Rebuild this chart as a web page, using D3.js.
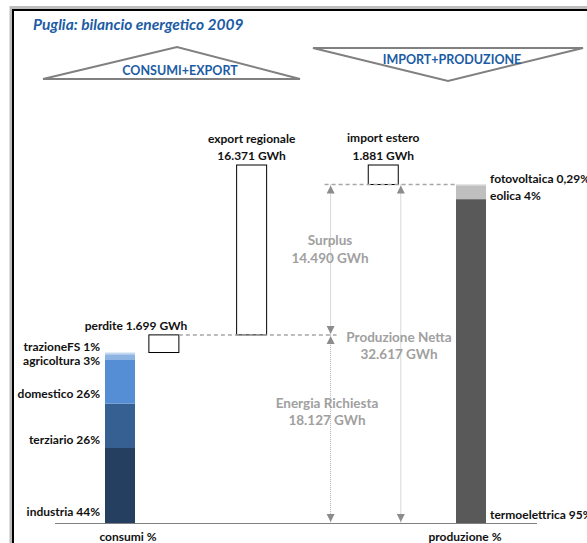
<!DOCTYPE html>
<html>
<head>
<meta charset="utf-8">
<script src="https://cdn.jsdelivr.net/npm/d3@7"></script>
<style>
  body { margin: 0; background: #fff; }
  svg text { font-family: Lato, "Open Sans", sans-serif; }
</style>
</head>
<body>
<div id="chart"></div>
<script>
// consumption breakdown (left stacked bar)
const consumiCats = ['industria', 'terziario', 'domestico', 'agricoltura', 'trazioneFS'];
const consumiPct = [44, 26, 26, 3, 1];
const consumiColors = ['#243f60', '#376092', '#558ed5', '#8eb4e3', '#c6d9f1'];

// production breakdown (right stacked bar)
const produzioneCats = ['termoelettrica', 'eolica', 'fotovoltaica'];
const produzionePct = [95, 4, 0.29];
const produzioneLabels = ['95%', '4%', '0,29%'];
const produzioneColors = ['#595959', '#bfbfbf', '#c8c8c8'];

// energy flows, GWh
const energiaRichiesta = 18127;
const perdite = 1699;
const exportReg = 16371;
const importEst = 1881;
const produzioneNetta = 32617;
const surplus = 14490;

const fmt = (v) => d3.format(',')(v).replace(/,/g, '.') + ' GWh';

function main() {
  var width = 587, height = 543;
  var svg = d3.select('#chart').append('svg')
    .attr('width', width).attr('height', height);

  var blue = '#1b5ca4';
  var grey = '#a6a6a6';
  var fs = 12;

  // frame
  svg.append('line').attr('x1', 10).attr('x2', width).attr('y1', 7.5).attr('y2', 7.5)
    .attr('stroke', '#bdbdbd').attr('stroke-width', 3);
  svg.append('line').attr('x1', 11).attr('x2', 11).attr('y1', 6).attr('y2', height)
    .attr('stroke', '#bdbdbd').attr('stroke-width', 3);
  svg.append('line').attr('x1', 13).attr('x2', width).attr('y1', 10).attr('y2', 10)
    .attr('stroke', '#000').attr('stroke-width', 2);
  svg.append('line').attr('x1', 13).attr('x2', 13).attr('y1', 9).attr('y2', height)
    .attr('stroke', '#000').attr('stroke-width', 2);

  svg.append('text').attr('x', 33).attr('y', 30)
    .attr('fill', blue).attr('font-size', 15.5).attr('font-weight', 'bold')
    .attr('font-style', 'italic').text('Puglia: bilancio energetico 2009');

  // triangles
  svg.append('path').attr('d', 'M43,79 L177,47 L300,79 Z')
    .attr('fill', 'none').attr('stroke', '#808080').attr('stroke-width', 2);
  svg.append('text').attr('x', 180).attr('y', 75).attr('text-anchor', 'middle')
    .attr('fill', blue).attr('font-size', 12.5).attr('font-weight', 'bold').text('CONSUMI+EXPORT');
  svg.append('path').attr('d', 'M313,48 L583,48 L448,81 Z')
    .attr('fill', 'none').attr('stroke', '#808080').attr('stroke-width', 2);
  svg.append('text').attr('x', 452).attr('y', 64).attr('text-anchor', 'middle')
    .attr('fill', blue).attr('font-size', 12.5).attr('font-weight', 'bold').text('IMPORT+PRODUZIONE');

  // scales
  var y = d3.scaleLinear()
    .domain([0, produzioneNetta + importEst])
    .range([523, 165]);
  var x = d3.scaleLinear().domain([0, 8]).range([120, 471]);
  var bw = 30;
  var col = { consumi: 0, perdite: 1, export: 3, surplus: 4.8, import: 6, netta: 6.4, produzione: 8 };

  // consumi stacked bar
  var consumiTot = energiaRichiesta - perdite;
  var cStack = d3.cumsum(consumiPct);
  var cData = consumiCats.map((c, i) => ({
    cat: c, pct: consumiPct[i], color: consumiColors[i],
    y0: consumiTot * (cStack[i] - consumiPct[i]) / 100,
    y1: consumiTot * cStack[i] / 100
  }));
  svg.selectAll('.cbar').data(cData).join('rect')
    .attr('class', 'cbar')
    .attr('x', x(col.consumi) - bw / 2).attr('width', bw)
    .attr('y', (d) => y(d.y1)).attr('height', (d) => y(d.y0) - y(d.y1))
    .attr('fill', (d) => d.color);

  var cLabelY = [516, 444, 398, 365, 351];
  svg.selectAll('.clab').data(cData).join('text')
    .attr('class', 'clab')
    .attr('x', 100).attr('y', (d, i) => cLabelY[i])
    .attr('text-anchor', 'end').attr('font-size', fs).attr('font-weight', 'bold')
    .attr('fill', '#111')
    .text((d) => d.cat + ' ' + d.pct + '%');

  // produzione stacked bar
  var pSum = d3.sum(produzionePct);
  var pStack = d3.cumsum(produzionePct);
  var pData = produzioneCats.map((c, i) => ({
    cat: c, label: produzioneLabels[i], color: produzioneColors[i],
    y0: produzioneNetta * (pStack[i] - produzionePct[i]) / pSum,
    y1: produzioneNetta * pStack[i] / pSum
  }));
  svg.selectAll('.pbar').data(pData).join('rect')
    .attr('class', 'pbar')
    .attr('x', x(col.produzione) - bw / 2).attr('width', bw)
    .attr('y', (d) => y(d.y1)).attr('height', (d) => y(d.y0) - y(d.y1))
    .attr('fill', (d) => d.color);

  var pLabelY = [519, 200, 183];
  svg.selectAll('.plab').data(pData).join('text')
    .attr('class', 'plab')
    .attr('x', 490).attr('y', (d, i) => pLabelY[i])
    .attr('font-size', fs).attr('font-weight', 'bold').attr('fill', '#111')
    .text((d) => d.cat + ' ' + d.label);

  // floating boxes
  var boxes = [
    { c: col.perdite, y0: consumiTot, y1: energiaRichiesta },
    { c: col.export, y0: energiaRichiesta, y1: energiaRichiesta + exportReg },
    { c: col.import, y0: produzioneNetta, y1: produzioneNetta + importEst }
  ];
  svg.selectAll('.box').data(boxes).join('rect')
    .attr('class', 'box')
    .attr('x', (d) => x(d.c) - bw / 2).attr('width', bw)
    .attr('y', (d) => y(d.y1)).attr('height', (d) => y(d.y0) - y(d.y1))
    .attr('fill', '#fff').attr('stroke', '#000').attr('stroke-width', 1);

  // dashed level lines
  svg.append('line')
    .attr('x1', x(col.perdite) + bw / 2).attr('x2', x(col.surplus) + 6)
    .attr('y1', y(energiaRichiesta)).attr('y2', y(energiaRichiesta))
    .attr('stroke', grey).attr('stroke-width', 1.5).attr('stroke-dasharray', '4,3');
  svg.append('line')
    .attr('x1', x(col.surplus) - 6).attr('x2', x(col.produzione) - bw / 2)
    .attr('y1', y(produzioneNetta)).attr('y2', y(produzioneNetta))
    .attr('stroke', grey).attr('stroke-width', 1.5).attr('stroke-dasharray', '4,3');

  // box labels
  var boxLabels = [
    { x: x(col.export), y: 143, t: 'export regionale' },
    { x: x(col.export), y: 160, t: fmt(exportReg) },
    { x: x(col.import), y: 142, t: 'import estero' },
    { x: x(col.import), y: 160, t: fmt(importEst) },
    { x: 136, y: 330, t: 'perdite ' + fmt(perdite) }
  ];
  svg.selectAll('.blab').data(boxLabels).join('text')
    .attr('class', 'blab')
    .attr('x', (d) => d.x).attr('y', (d) => d.y).attr('text-anchor', 'middle')
    .attr('font-size', fs).attr('font-weight', 'bold').attr('fill', '#111')
    .text((d) => d.t);

  // dimension arrows
  var arrows = [
    { c: col.surplus, a: produzioneNetta, b: energiaRichiesta },
    { c: col.surplus, a: energiaRichiesta, b: 0 },
    { c: col.netta, a: produzioneNetta, b: 0 }
  ];
  svg.selectAll('.arr').data(arrows).join('line')
    .attr('class', 'arr')
    .attr('x1', (d) => x(d.c)).attr('x2', (d) => x(d.c))
    .attr('y1', (d) => y(d.a)).attr('y2', (d) => y(d.b))
    .attr('stroke', '#b0b0b0').attr('stroke-width', 1).attr('stroke-dasharray', '1,1');
  var heads = [];
  arrows.forEach((d) => {
    heads.push({ x: x(d.c), y: y(d.a) + 1, dir: -1 });
    heads.push({ x: x(d.c), y: y(d.b) - 1, dir: 1 });
  });
  svg.selectAll('.head').data(heads).join('path')
    .attr('class', 'head')
    .attr('d', (d) => 'M' + d.x + ',' + d.y + ' l-4,' + (-d.dir * 8) + ' l8,0 Z')
    .attr('fill', '#8c8c8c');

  // flow labels
  var flowLabels = [
    { x: 330, y: 245, t: 'Surplus' },
    { x: 330, y: 263, t: fmt(surplus) },
    { x: 399, y: 342, t: 'Produzione Netta' },
    { x: 399, y: 359, t: fmt(produzioneNetta) },
    { x: 327, y: 408, t: 'Energia Richiesta' },
    { x: 327, y: 425, t: fmt(energiaRichiesta) }
  ];
  svg.selectAll('.flab').data(flowLabels).join('text')
    .attr('class', 'flab')
    .attr('x', (d) => d.x).attr('y', (d) => d.y).attr('text-anchor', 'middle')
    .attr('font-size', 13.5).attr('font-weight', 'bold').attr('fill', '#a0a0a0')
    .text((d) => d.t);

  // baseline
  svg.append('line').attr('x1', 55).attr('x2', 537).attr('y1', 523.5).attr('y2', 523.5)
    .attr('stroke', '#808080').attr('stroke-width', 1);

  svg.append('text').attr('x', 128).attr('y', 541).attr('text-anchor', 'middle')
    .attr('font-size', fs).attr('font-weight', 'bold').attr('fill', '#111').text('consumi %');
  svg.append('text').attr('x', 465).attr('y', 541).attr('text-anchor', 'middle')
    .attr('font-size', fs).attr('font-weight', 'bold').attr('fill', '#111').text('produzione %');
}

main();
</script>
</body>
</html>
